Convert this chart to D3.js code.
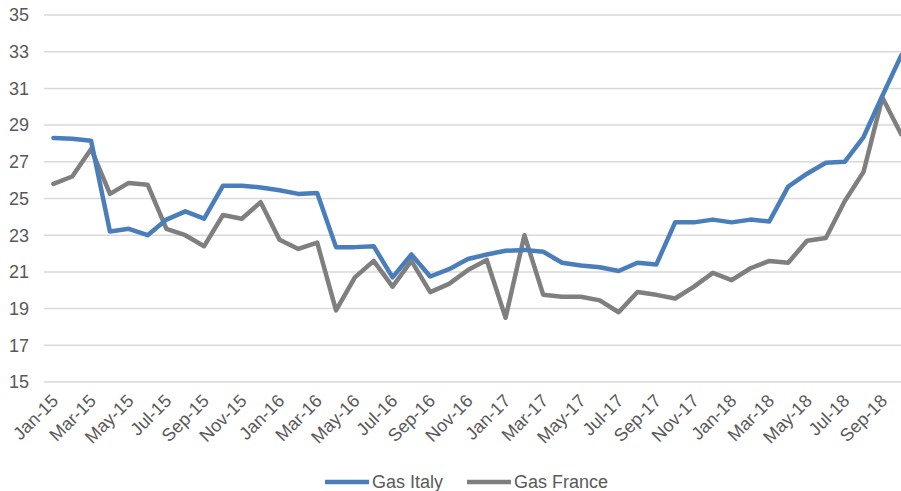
<!DOCTYPE html>
<html>
<head>
<meta charset="utf-8">
<script src="https://cdn.jsdelivr.net/npm/d3@7"></script>
<style>
  body { margin: 0; background: #fff; }
  svg text { font-family: "Liberation Sans", Arial, sans-serif; fill: #595959; }
</style>
</head>
<body>
<svg id="chart" width="901" height="491"></svg>
<script>
var months = ["Jan-15","Feb-15","Mar-15","Apr-15","May-15","Jun-15","Jul-15","Aug-15","Sep-15","Oct-15","Nov-15","Dec-15",
  "Jan-16","Feb-16","Mar-16","Apr-16","May-16","Jun-16","Jul-16","Aug-16","Sep-16","Oct-16","Nov-16","Dec-16",
  "Jan-17","Feb-17","Mar-17","Apr-17","May-17","Jun-17","Jul-17","Aug-17","Sep-17","Oct-17","Nov-17","Dec-17",
  "Jan-18","Feb-18","Mar-18","Apr-18","May-18","Jun-18","Jul-18","Aug-18","Sep-18","Oct-18"];

var gasItaly = [28.3,28.25,28.15,23.2,23.35,23.0,23.85,24.3,23.9,25.7,25.7,25.6,
  25.45,25.25,25.3,22.35,22.35,22.4,20.7,21.95,20.75,21.15,21.7,21.95,
  22.15,22.2,22.1,21.5,21.35,21.25,21.05,21.5,21.4,23.7,23.7,23.85,
  23.7,23.85,23.75,25.65,26.35,26.95,27.0,28.35,30.6,32.8];

var gasFrance = [25.8,26.2,27.7,25.25,25.85,25.75,23.35,23.0,22.4,24.1,23.9,24.8,
  22.75,22.25,22.6,18.9,20.7,21.6,20.2,21.6,19.9,20.35,21.1,21.65,
  18.5,23.0,19.75,19.65,19.65,19.45,18.8,19.9,19.75,19.55,20.2,20.95,
  20.55,21.2,21.6,21.5,22.7,22.85,24.85,26.45,30.5,28.5];

var yTicks = [15,17,19,21,23,25,27,29,31,33,35];

var series = [
  {name: "Gas Italy", values: gasItaly, color: "#4a7ebb"},
  {name: "Gas France", values: gasFrance, color: "#7f7f7f"}
];

var svg = d3.select("#chart");

var x = d3.scaleBand().domain(months).range([44, 44 + 18.84 * months.length]);
var y = d3.scaleLinear().domain([15, 35]).range([382, 15]);

// gridlines
svg.append("g")
  .selectAll("line")
  .data(yTicks)
  .enter()
  .append("line")
    .attr("x1", 44)
    .attr("x2", x.range()[1])
    .attr("y1", function (d) { return y(d); })
    .attr("y2", function (d) { return y(d); })
    .attr("stroke", "#d9d9d9")
    .attr("stroke-width", 1.5);

// y labels
svg.append("g")
  .selectAll("text")
  .data(yTicks)
  .enter()
  .append("text")
    .attr("x", 29)
    .attr("y", function (d) { return y(d); })
    .attr("dy", "0.35em")
    .attr("text-anchor", "end")
    .style("font-size", "18px")
    .text(function (d) { return d; });

// x labels, every other month
svg.append("g")
  .selectAll("text")
  .data(months.filter(function (d, i) { return i % 2 === 0; }))
  .enter()
  .append("text")
    .attr("transform", function (d) {
      return "translate(" + (x(d) + x.bandwidth() / 2 + 6) + ",402) rotate(-45)";
    })
    .attr("text-anchor", "end")
    .style("font-size", "18px")
    .text(function (d) { return d; });

var line = d3.line()
  .x(function (d, i) { return x(months[i]) + x.bandwidth() / 2; })
  .y(function (d) { return y(d); });

svg.append("g")
  .selectAll("path")
  .data(series.slice().reverse())
  .enter()
  .append("path")
    .attr("d", function (d) { return line(d.values); })
    .attr("fill", "none")
    .attr("stroke", function (d) { return d.color; })
    .attr("stroke-width", 4.5)
    .attr("stroke-linejoin", "round")
    .attr("stroke-linecap", "round");

// legend
var legendX = [325, 467];
var lg = svg.append("g")
  .selectAll("g")
  .data(series)
  .enter()
  .append("g")
    .attr("transform", function (d, i) { return "translate(" + legendX[i] + ",482)"; });

lg.append("line")
  .attr("x1", 0).attr("x2", 44)
  .attr("stroke", function (d) { return d.color; })
  .attr("stroke-width", 4.5);

lg.append("text")
  .attr("x", 47)
  .attr("dy", "0.35em")
  .style("font-size", "18px")
  .text(function (d) { return d.name; });
</script>
</body>
</html>
